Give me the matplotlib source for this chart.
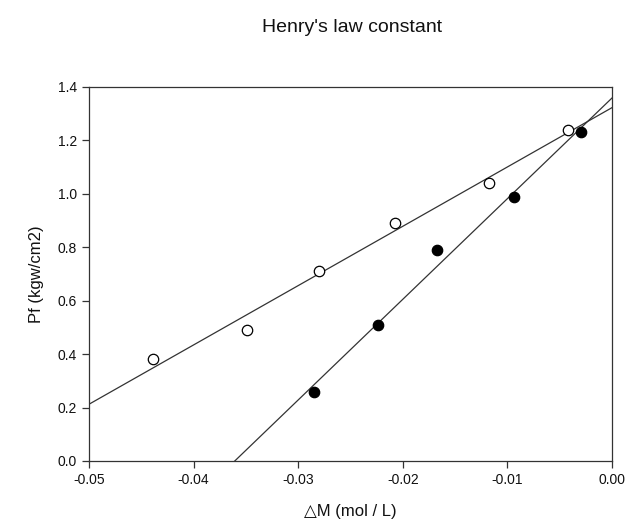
import numpy as np
import matplotlib
matplotlib.use("Agg")
import matplotlib.pyplot as plt
from matplotlib.ticker import FormatStrFormatter

plt.rcParams['font.family'] = ['Liberation Sans', 'DejaVu Sans']

open_x = [-0.0439, -0.0349, -0.0280, -0.0207, -0.0118, -0.0042]
open_y = [0.38, 0.49, 0.71, 0.89, 1.04, 1.24]
filled_x = [-0.0285, -0.0224, -0.0167, -0.0094, -0.0030]
filled_y = [0.26, 0.51, 0.79, 0.99, 1.23]

fig = plt.figure(figsize=(6.37, 5.22), dpi=100)
ax = fig.add_axes([89/637, 1-461/522, (612-89)/637, (461-87)/522])

xs = np.linspace(-0.05, 0.0, 200)
for x, y in [(open_x, open_y), (filled_x, filled_y)]:
    m, b = np.polyfit(x, y, 1)
    ax.plot(xs, m*xs + b, color='#333333', lw=0.9, zorder=2)

ax.plot(open_x, open_y, 'o', ms=7.5, mfc='white', mec='black', mew=0.9, zorder=3)
ax.plot(filled_x, filled_y, 'o', ms=7.5, mfc='black', mec='black', mew=0.9, zorder=3)

ax.set_xlim(-0.05, 0.0)
ax.set_ylim(0, 1.4)
ax.set_xticks(np.arange(-0.05, 0.001, 0.01))
ax.set_yticks(np.arange(0, 1.41, 0.2))
ax.xaxis.set_major_formatter(FormatStrFormatter('%.2f'))
ax.yaxis.set_major_formatter(FormatStrFormatter('%.1f'))
ax.tick_params(direction='out', length=5, width=0.9, labelsize=10, colors='#333333', labelcolor='#111111')
ax.tick_params(axis='x', pad=4)
for s in ax.spines.values():
    s.set_linewidth(0.9)
    s.set_color('#333333')

ax.set_xlabel('△M (mol / L)', fontsize=12, labelpad=12, color='#111111')
ax.set_ylabel('Pf (kgw/cm2)', fontsize=12, labelpad=10, color='#111111')
fig.text(352/637, 1-28/522, "Henry's law constant", ha='center', va='center', fontsize=14, color='#111111')

fig.savefig('out.png', dpi=100)
